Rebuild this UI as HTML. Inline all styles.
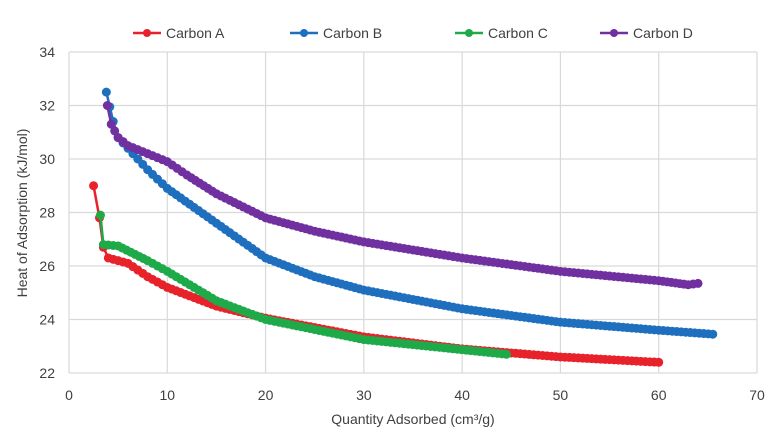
<!DOCTYPE html>
<html><head><meta charset="utf-8"><style>
html,body{margin:0;padding:0;background:#fff;}
svg{display:block;font-family:"Liberation Sans",sans-serif;}
</style></head><body>
<svg id="c" width="780" height="447" viewBox="0 0 780 447" xmlns="http://www.w3.org/2000/svg">
<g id="grid" stroke="#d9d9d9" stroke-width="1.2"></g>
<g id="ticks" font-size="14" fill="#404040"></g>
<text x="413" y="424" font-size="14" fill="#404040" text-anchor="middle">Quantity Adsorbed (cm³/g)</text>
<text transform="translate(27,213) rotate(-90)" font-size="14" fill="#404040" text-anchor="middle">Heat of Adsorption (kJ/mol)</text>
<g id="series"></g>
<g id="legend" font-size="14" fill="#404040"></g>
</svg>
<script>
var L=69,R=757,T=52,B=373;
function X(v){return L+(R-L)*v/70}
function Y(v){return B-(B-T)*(v-22)/12}
var ns="http://www.w3.org/2000/svg";
function el(p,t,a,txt){var e=document.createElementNS(ns,t);for(var k in a)e.setAttribute(k,a[k]);if(txt!=null)e.textContent=txt;p.appendChild(e);return e;}
var g=document.getElementById('grid'),tk=document.getElementById('ticks');
for(var i=0;i<=7;i++){var x=X(i*10);el(g,'line',{x1:x,y1:T,x2:x,y2:B});el(tk,'text',{x:x,y:400,'text-anchor':'middle'},String(i*10));}
for(var v=22;v<=34;v+=2){var y=Y(v);el(g,'line',{x1:L,y1:y,x2:R,y2:y});el(tk,'text',{x:55,y:y+5,'text-anchor':'end'},String(v));}
var S=[
['#e8222a',[[2.5,29],[3.1,27.8],[3.5,26.7],[4,26.3],[6,26.1],[8,25.6],[10,25.2],[15,24.5],[20,24.05],[30,23.35],[40,22.9],[50,22.6],[60,22.4]]],
['#1f6fbf',[[3.8,32.5],[4.5,31.4],[5,30.8],[6,30.4],[8,29.6],[10,28.9],[15,27.6],[20,26.3],[25,25.6],[30,25.1],[40,24.4],[50,23.9],[60,23.6],[65.5,23.45]]],
['#1faa4a',[[3.2,27.9],[3.5,26.8],[5,26.75],[8,26.2],[10,25.8],[15,24.7],[20,24.0],[30,23.25],[44.5,22.7]]],
['#7030a0',[[3.9,32],[4.3,31.3],[5,30.8],[6,30.5],[8,30.2],[10,29.9],[12,29.4],[15,28.7],[20,27.8],[25,27.3],[30,26.9],[40,26.3],[50,25.8],[60,25.45],[63,25.3],[64,25.35]]]
];
var sg=document.getElementById('series');
S.forEach(function(s){
 var c=s[0],p=s[1],pts=[];
 for(var i=0;i<p.length-1;i++){var a=p[i],b=p[i+1];var n=Math.max(1,Math.round((b[0]-a[0])/0.45));
  for(var j=0;j<n;j++){var t=j/n;pts.push([a[0]+(b[0]-a[0])*t,a[1]+(b[1]-a[1])*t]);}}
 pts.push(p[p.length-1]);
 el(sg,'polyline',{points:pts.map(function(q){return X(q[0])+','+Y(q[1])}).join(' '),fill:'none',stroke:c,'stroke-width':2.5});
 pts.forEach(function(q){el(sg,'circle',{cx:X(q[0]),cy:Y(q[1]),r:4.5,fill:c});});
});
var lg=document.getElementById('legend');
[['Carbon A','#e8222a',133],['Carbon B','#1f6fbf',290],['Carbon C','#1faa4a',455],['Carbon D','#7030a0',600]].forEach(function(l){
 el(lg,'line',{x1:l[2],y1:33,x2:l[2]+28,y2:33,stroke:l[1],'stroke-width':2.5});
 el(lg,'circle',{cx:l[2]+14,cy:33,r:4,fill:l[1]});
 el(lg,'text',{x:l[2]+33,y:38},l[0]);
});
</script>
</body></html>
